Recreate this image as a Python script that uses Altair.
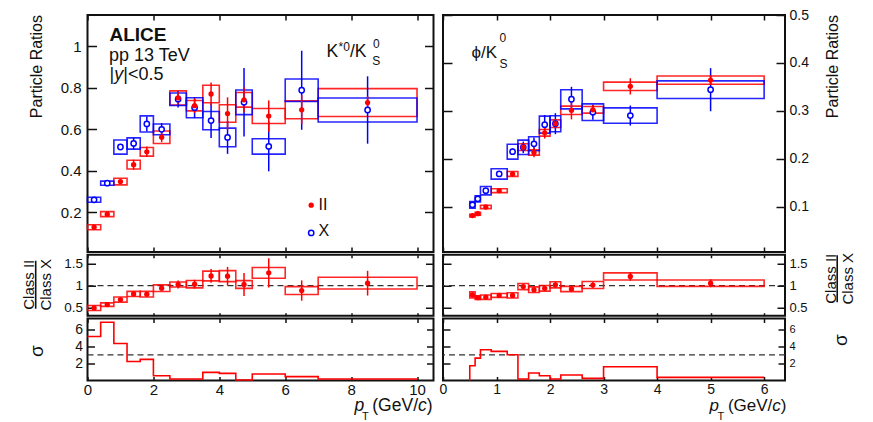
import altair as alt
import pandas as pd

FONT = "Liberation Sans"
INK = "#111111"
RED = "#ff0000"
BLUE = "#0000ff"

# ---------------- K*0/K0S (left column) ----------------
ks_lo = [0.0, 0.4, 0.8, 1.2, 1.6, 2.0, 2.5, 3.0, 3.5, 4.0, 4.5, 5.0, 6.0, 7.0]
ks_hi = [0.4, 0.8, 1.2, 1.6, 2.0, 2.5, 3.0, 3.5, 4.0, 4.5, 5.0, 6.0, 7.0, 10.0]
ks_pt = [0.2, 0.6, 1.0, 1.4, 1.8, 2.25, 2.75, 3.25, 3.75, 4.25, 4.75, 5.5, 6.5, 8.5]
ks_II = [0.129, 0.192, 0.349, 0.430, 0.492, 0.562, 0.751, 0.714, 0.770, 0.676, 0.742, 0.664, 0.694, 0.729]
ks_II_stat = [0.010, 0.008, 0.012, 0.024, 0.025, 0.024, 0.030, 0.035, 0.055, 0.078, 0.060, 0.075, 0.070, 0.030]
ks_II_sys = [0.012, 0.012, 0.016, 0.021, 0.021, 0.030, 0.034, 0.025, 0.042, 0.042, 0.035, 0.036, 0.043, 0.067]
ks_X = [0.261, 0.341, 0.515, 0.532, 0.626, 0.600, 0.745, 0.704, 0.642, 0.561, 0.730, 0.518, 0.788, 0.693]
ks_X_stat = [0.006, 0.006, 0.012, 0.028, 0.036, 0.030, 0.040, 0.050, 0.084, 0.079, 0.165, 0.120, 0.190, 0.162]
ks_X_sys = [0.012, 0.010, 0.034, 0.027, 0.039, 0.026, 0.030, 0.048, 0.044, 0.045, 0.059, 0.037, 0.054, 0.058]
ks_ratio = [0.496, 0.572, 0.686, 0.814, 0.807, 0.943, 1.027, 1.034, 1.220, 1.216, 1.027, 1.290, 0.890, 1.057]
ks_ratio_stat = [0.03, 0.03, 0.04, 0.04, 0.05, 0.06, 0.09, 0.10, 0.155, 0.21, 0.26, 0.33, 0.23, 0.28]
ks_ratio_sys = [0.057, 0.040, 0.057, 0.057, 0.064, 0.076, 0.057, 0.083, 0.110, 0.125, 0.087, 0.120, 0.090, 0.133]
ks_sigma = [5.15, 6.82, 4.33, 2.23, 2.47, 0.56, 0.17, 0.17, 0.95, 0.83, 0.06, 0.76, 0.45, 0.17]

# ---------------- phi/K0S (right column) ----------------
ph_lo = [0.5, 0.6, 0.7, 0.9, 1.2, 1.4, 1.6, 1.8, 2.0, 2.2, 2.6, 3.0, 4.0]
ph_hi = [0.6, 0.7, 0.9, 1.2, 1.4, 1.6, 1.8, 2.0, 2.2, 2.6, 3.0, 4.0, 6.0]
ph_pt = [0.55, 0.65, 0.8, 1.05, 1.3, 1.5, 1.7, 1.9, 2.1, 2.4, 2.8, 3.5, 5.0]
ph_II = [0.081, 0.085, 0.099, 0.133, 0.168, 0.224, 0.213, 0.254, 0.273, 0.301, 0.302, 0.351, 0.364]
ph_II_stat = [0.004, 0.004, 0.003, 0.003, 0.005, 0.008, 0.010, 0.012, 0.010, 0.019, 0.010, 0.017, 0.010]
ph_II_sys = [0.003, 0.003, 0.0035, 0.004, 0.005, 0.007, 0.0056, 0.007, 0.008, 0.0087, 0.007, 0.0087, 0.0087]
ph_X = [0.1035, 0.116, 0.133, 0.168, 0.2146, 0.2236, 0.231, 0.271, 0.273, 0.324, 0.297, 0.290, 0.344]
ph_X_stat = [0.006, 0.004, 0.005, 0.006, 0.007, 0.012, 0.013, 0.020, 0.022, 0.026, 0.016, 0.021, 0.045]
ph_X_sys = [0.007, 0.0066, 0.0087, 0.0108, 0.0156, 0.015, 0.0146, 0.0177, 0.0167, 0.020, 0.0174, 0.016, 0.0184]
ph_ratio = [0.79, 0.73, 0.74, 0.78, 0.78, 0.98, 0.91, 0.94, 1.02, 0.925, 1.015, 1.21, 1.057]
ph_ratio_stat = [0.06, 0.04, 0.03, 0.03, 0.03, 0.05, 0.04, 0.05, 0.06, 0.06, 0.07, 0.10, 0.09]
ph_ratio_sys = [0.07, 0.04, 0.05, 0.045, 0.06, 0.07, 0.064, 0.064, 0.07, 0.06, 0.08, 0.08, 0.072]
ph_sigma = [1.73, 2.62, 3.59, 3.40, 3.01, 0.17, 0.87, 0.56, 0.17, 0.64, 0.25, 1.61, 0.37]

# reference lines
ratio_ref = [1.0]
sigma_ref = [3.0]

# axis tick values and domains
ks_xdom = [0.0, 10.5]
ph_xdom = [0.0, 6.39]
ks_ydom = [0.01, 1.15]
ph_ydom = [0.005, 0.5]
ratio_dom = [0.32, 1.70]
sigma_dom = [0.0, 7.25]
ks_xticks = [0, 2, 4, 6, 8, 10]
ph_xticks = [0, 1, 2, 3, 4, 5, 6]
ks_yticks = [0.2, 0.4, 0.6, 0.8, 1.0]
ph_yticks = [0.1, 0.2, 0.3, 0.4, 0.5]
ratio_ticks = [0.5, 1.0, 1.5]
sigma_ticks = [2, 4, 6]

WL, WR = 346, 342
HT, HM, HS = 237, 61, 62


def scale(dom):
    return alt.Scale(domain=dom, nice=False, zero=False)


def axis(orient, vals, tick, lab):
    kw = dict(orient=orient, values=vals, tickSize=tick, offset=-tick, domain=False,
              grid=False, ticks=True, tickColor=INK, tickWidth=1.5, title=None,
              labels=lab is not None)
    if lab is not None:
        kw.update(format="~r", labelFont=FONT, labelFontSize=lab[0], labelPadding=lab[1],
                  labelColor=INK, labelFlush=False, labelOverlap=False)
    return alt.Axis(**kw)


def axis_layers(xs, ys, xdom, ydom, xvals, yvals, xt, yt, xlab, ylab_l, ylab_r):
    d = pd.DataFrame({"x": xdom, "y": ydom})
    a = alt.Chart(d).mark_line(strokeOpacity=0, strokeWidth=0).encode(
        x=alt.X("x:Q", scale=xs, axis=axis("bottom", xvals, xt, xlab)),
        y=alt.Y("y:Q", scale=ys, axis=axis("left", yvals, yt, ylab_l)))
    b = alt.Chart(d).mark_line(strokeOpacity=0, strokeWidth=0).encode(
        x=alt.X("x:Q", scale=xs, axis=axis("top", xvals, xt, None)),
        y=alt.Y("y:Q", scale=ys, axis=axis("right", yvals, yt, ylab_r)))
    return [a, b]


def series(lo, hi, pt, val, stat, sys, xs, ys, color, hollow):
    df = pd.DataFrame({
        "lo": lo, "hi": hi, "pt": pt, "v": val,
        "st_lo": [v - e for v, e in zip(val, stat)],
        "st_hi": [v + e for v, e in zip(val, stat)],
        "sy_lo": [v - e for v, e in zip(val, sys)],
        "sy_hi": [v + e for v, e in zip(val, sys)],
    })
    box = alt.Chart(df).mark_rect(filled=False, color=color, strokeWidth=1.6, opacity=0.85).encode(
        x=alt.X("lo:Q", scale=xs, axis=None), x2="hi:Q",
        y=alt.Y("sy_lo:Q", scale=ys, axis=None), y2="sy_hi:Q")
    bar = alt.Chart(df).mark_rule(color=color, strokeWidth=1.5).encode(
        x=alt.X("pt:Q", scale=xs, axis=None),
        y=alt.Y("st_lo:Q", scale=ys, axis=None), y2="st_hi:Q")
    if hollow:
        pm = alt.Chart(df).mark_point(shape="circle", filled=True, fill="white", stroke=color,
                                      strokeWidth=1.5, size=28, opacity=1)
    else:
        pm = alt.Chart(df).mark_point(shape="circle", filled=True, color=color, size=28, opacity=1)
    pts = pm.encode(x=alt.X("pt:Q", scale=xs, axis=None), y=alt.Y("v:Q", scale=ys, axis=None))
    return box, bar, pts


def ref_rule(vals, ys):
    return alt.Chart(pd.DataFrame({"y": vals})).mark_rule(
        strokeDash=[6, 4], color="#333333", strokeWidth=1.3).encode(
        y=alt.Y("y:Q", scale=ys, axis=None))


def step(lo, hi, val, start_zero, xs, ys):
    sx, sy = [], []
    if start_zero:
        sx.append(lo[0]); sy.append(0.0)
    for l, v in zip(lo, val):
        sx.append(l); sy.append(v)
    sx.append(hi[-1]); sy.append(val[-1])
    df = pd.DataFrame({"x": sx, "y": sy, "i": list(range(len(sx)))})
    return alt.Chart(df).mark_line(interpolate="step-after", color=RED, strokeWidth=1.6).encode(
        x=alt.X("x:Q", scale=xs, axis=None), y=alt.Y("y:Q", scale=ys, axis=None),
        order=alt.Order("i:Q"))


def txt(s, x, y, size, align="left", baseline="alphabetic", angle=0, style="normal",
        weight="normal", color=INK):
    kw = dict(font=FONT, fontSize=size, align=align, baseline=baseline, color=color,
              fontStyle=style, fontWeight=weight)
    if angle:
        kw["angle"] = angle
    return alt.Chart(pd.DataFrame({"t": [s]})).mark_text(**kw).encode(
        text="t:N", x=alt.value(x), y=alt.value(y))


def vbar(x, y1, y2):
    return alt.Chart(pd.DataFrame({"a": [0]})).mark_rule(color=INK, strokeWidth=1.6).encode(
        x=alt.value(x), y=alt.value(y1), y2=alt.value(y2))


def panel(layers, w, h):
    return alt.layer(*layers).resolve_axis(x="independent", y="independent").properties(
        width=w, height=h)


xL, xR = scale(ks_xdom), scale(ph_xdom)

# ---- top left ----
ysTL = scale(ks_ydom)
rb, rbar, rp = series(ks_lo, ks_hi, ks_pt, ks_II, ks_II_stat, ks_II_sys, xL, ysTL, RED, False)
bb, bbar, bp = series(ks_lo, ks_hi, ks_pt, ks_X, ks_X_stat, ks_X_sys, xL, ysTL, BLUE, True)
anchor = alt.Chart(pd.DataFrame({"a": [0]})).mark_rule(strokeOpacity=0, strokeWidth=1).encode(
    x=alt.value(-72), y=alt.value(100), y2=alt.value(101))
legend_red = alt.Chart(pd.DataFrame({"a": [0]})).mark_point(
    shape="circle", filled=True, color=RED, size=28, opacity=1).encode(
    x=alt.value(223.7), y=alt.value(190.2))
legend_blue = alt.Chart(pd.DataFrame({"a": [0]})).mark_point(
    shape="circle", filled=True, fill="white", stroke=BLUE, strokeWidth=1.5, size=28,
    opacity=1).encode(x=alt.value(223.7), y=alt.value(217.9))
tl = panel(axis_layers(xL, ysTL, ks_xdom, ks_ydom, ks_xticks, ks_yticks, 5, 9, None, (15, 6.5), None)
           + [rb, bb, bbar, rbar, bp, rp, anchor, legend_red, legend_blue,
              txt("II", 231, 194.5, 16), txt("X", 231, 221.2, 16),
              txt("ALICE", 22, 26.2, 19, weight="bold"),
              txt("pp 13 TeV", 21.5, 45.5, 18),
              txt("|", 22, 65, 18), txt("y", 26.7, 65, 18, style="italic"), txt("|<0.5", 35.7, 65, 18),
              txt("K", 239, 42.2, 17.5), txt("*0", 251, 35.5, 12), txt("/K", 262.5, 42.2, 17.5),
              txt("0", 285.5, 32.9, 12), txt("S", 284.7, 49.5, 12),
              txt("Particle Ratios", -45.3, 0, 16, align="right", angle=270)], WL, HT)

# ---- top right ----
ysTR = scale(ph_ydom)
rb, rbar, rp = series(ph_lo, ph_hi, ph_pt, ph_II, ph_II_stat, ph_II_sys, xR, ysTR, RED, False)
bb, bbar, bp = series(ph_lo, ph_hi, ph_pt, ph_X, ph_X_stat, ph_X_sys, xR, ysTR, BLUE, True)
tr = panel(axis_layers(xR, ysTR, ph_xdom, ph_ydom, ph_xticks, ph_yticks, 5, 9, None, None, (14, 4))
           + [rb, bb, bbar, rbar, bp, rp,
              txt("\u03d5", 28.5, 42.7, 17), txt("/K", 38, 42.7, 17),
              txt("0", 56.5, 27, 12), txt("S", 56.5, 52.5, 12),
              txt("Particle Ratios", 394.5, 0, 16, align="right", angle=270)], WR, HT)

# ---- middle (ratio) ----
ysM = scale(ratio_dom)
rb, rbar, rp = series(ks_lo, ks_hi, ks_pt, ks_ratio, ks_ratio_stat, ks_ratio_sys, xL, ysM, RED, False)
ml = panel(axis_layers(xL, ysM, ks_xdom, ratio_dom, ks_xticks, ratio_ticks, 3, 8, None, (13.5, 5), None)
           + [ref_rule(ratio_ref, ysM), rb, rbar, rp,
              txt("Class II", -54, 30, 15, align="center", angle=270), vbar(-51.8, 6, 54),
              txt("Class X", -37, 30, 15, align="center", angle=270)], WL, HM)
rb, rbar, rp = series(ph_lo, ph_hi, ph_pt, ph_ratio, ph_ratio_stat, ph_ratio_sys, xR, ysM, RED, False)
mr = panel(axis_layers(xR, ysM, ph_xdom, ratio_dom, ph_xticks, ratio_ticks, 3, 8, None, None, (13, 4))
           + [ref_rule(ratio_ref, ysM), rb, rbar, rp,
              txt("Class II", 392.5, 24, 15, align="center", angle=270), vbar(394.2, 0.5, 47.5),
              txt("Class X", 409.5, 24, 15, align="center", angle=270)], WR, HM)

# ---- bottom (sigma) ----
ysS = scale(sigma_dom)
sl = panel(axis_layers(xL, ysS, ks_xdom, sigma_dom, ks_xticks, sigma_ticks, 4, 7, (15, 1.5), (14, 5), None)
           + [ref_rule(sigma_ref, ysS), step(ks_lo, ks_hi, ks_sigma, False, xL, ysS),
              txt("\u03c3", -51, 32.7, 19, align="center", baseline="middle", angle=270),
              txt("p", 267, 92.5, 17.5, style="italic"), txt("T", 274.5, 101, 11),
              txt("(GeV/", 330.5, 92.5, 17.5, align="right"),
              txt("c", 339.2, 92.5, 17.5, align="right", style="italic"),
              txt(")", 345, 92.5, 17.5, align="right")], WL, HS)
sr = panel(axis_layers(xR, ysS, ph_xdom, sigma_dom, ph_xticks, sigma_ticks, 4, 7, (14, 1.5), None, (11, 4))
           + [ref_rule(sigma_ref, ysS), step(ph_lo, ph_hi, ph_sigma, True, xR, ysS),
              txt("\u03c3", 397.5, 21.7, 19, align="center", baseline="middle", angle=270),
              txt("p", 266.5, 92.5, 17, style="italic"), txt("T", 274.5, 101, 11),
              txt("(GeV/", 329.3, 92.5, 17, align="right"),
              txt("c", 337.8, 92.5, 17, align="right", style="italic"),
              txt(")", 343.5, 92.5, 17, align="right")], WR, HS)

chart = alt.concat(tl, tr, ml, mr, sl, sr, columns=2, spacing={"row": 2.75, "column": 9.5},
                   align="each", bounds="flush").properties(
    padding={"left": 6.5, "top": -1, "right": 0, "bottom": 0},
    background="white",
).configure_view(stroke=INK, strokeWidth=2)

chart.save("out.html", embed_options={"renderer": "svg", "actions": False})
